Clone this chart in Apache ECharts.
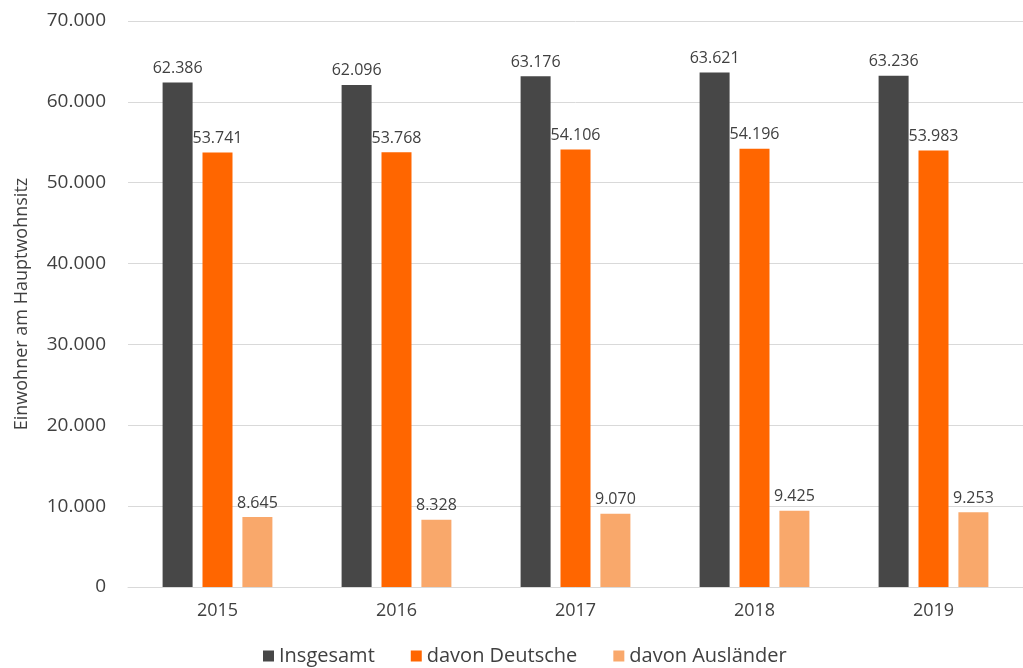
<!DOCTYPE html>
<html><head><meta charset="utf-8">
<script src="https://cdn.jsdelivr.net/npm/echarts@6/dist/echarts.min.js"></script>
<style>html,body{margin:0;padding:0;background:#fff}#c{width:1023px;height:668px}</style>
</head><body><div id="c"></div>
<script>
const categories = ['2015','2016','2017','2018','2019'];
const insgesamt = [62386, 62096, 63176, 63621, 63236];
const deutsche = [53741, 53768, 54106, 54196, 53983];
const auslaender = [8645, 8328, 9070, 9425, 9253];
const seriesNames = ['Insgesamt','davon Deutsche','davon Ausländer'];
const yTicks = {min:0, max:70000, interval:10000};

const fmt = v => String(v).replace(/\B(?=(\d{3})+(?!\d))/g, '.');
const font = '"Open Sans", sans-serif';
const colors = ['#474747','#FF6600','#F9A86B'];
const chart = echarts.init(document.getElementById('c'));
const mk = (name, data, i) => ({
  name, type:'bar', data, barWidth:30, barGap:'33%',
  itemStyle:{color:colors[i]},
  label:{show:true, position:'top', distance:6, formatter:p=>fmt(p.value), color:'#404040', fontSize:16, fontFamily:font}
});
chart.setOption({
  animation:false,
  textStyle:{fontFamily:font},
  grid:{left:128, top:21, width:900, bottom:81, containLabel:false},
  legend:{bottom:-3, left:258, itemWidth:11, itemHeight:11, itemGap:36, icon:'rect',
    textStyle:{fontSize:20, color:'#404040', fontFamily:font}},
  xAxis:{type:'category', data:categories,
    axisLine:{lineStyle:{color:'#d9d9d9'}}, axisTick:{show:false},
    axisLabel:{fontSize:18, color:'#404040', margin:15, fontFamily:font}},
  yAxis:{type:'value', min:yTicks.min, max:yTicks.max, interval:yTicks.interval,
    name:'Einwohner am Hauptwohnsitz', nameLocation:'middle', nameGap:97, nameRotate:90,
    nameTextStyle:{fontSize:18, color:'#404040', fontFamily:font},
    axisLine:{show:false}, axisTick:{show:false},
    splitLine:{lineStyle:{color:'#d9d9d9'}},
    axisLabel:{formatter:fmt, fontSize:19, color:'#404040', margin:22, fontFamily:font}},
  series:[mk(seriesNames[0],insgesamt,0), mk(seriesNames[1],deutsche,1), mk(seriesNames[2],auslaender,2)]
});
</script></body></html>
